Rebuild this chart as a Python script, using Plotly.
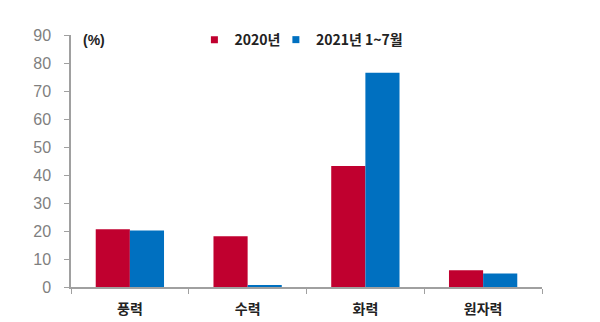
import plotly.graph_objects as go

categories = ["풍력", "수력", "화력", "원자력"]
series_2020 = [20.6, 18.1, 43.2, 6.0]
series_2021 = [20.2, 0.4, 76.5, 4.8]
series_names = ["2020년", "2021년 1~7월"]
y_ticks = [0, 10, 20, 30, 40, 50, 60, 70, 80, 90]

RED = "#C0002F"
BLUE = "#0070C0"
AXIS = "#A0A0A0"
KR_FONT = "Noto Sans CJK KR, Noto Sans, sans-serif"

fig = go.Figure()
fig.add_trace(go.Bar(x=categories, y=series_2020, name=series_names[0],
                     marker=dict(color=RED, line=dict(width=0)), showlegend=False))
fig.add_trace(go.Bar(x=categories, y=series_2021, name=series_names[1],
                     marker=dict(color=BLUE, line=dict(width=0)), showlegend=False))

# Legend entries drawn as small square markers, one legend box each
for name, color, leg in zip(series_names, [RED, BLUE], ["legend", "legend2"]):
    fig.add_trace(go.Scatter(x=[None], y=[None], mode="markers", name=name,
                             legend=leg,
                             marker=dict(symbol="square", size=7, color=color)))

legend_style = dict(orientation="h", y=0.98, xanchor="left", yanchor="middle",
                    font=dict(family=KR_FONT, size=14, color="#222222", weight="bold"),
                    bgcolor="rgba(0,0,0,0)", itemwidth=30)

fig.update_layout(
    width=600, height=322,
    margin=dict(l=71, r=58, t=35, b=35, autoexpand=False),
    paper_bgcolor="white", plot_bgcolor="white",
    barmode="group", bargap=0.42, bargroupgap=0,
    showlegend=True,
    legend=dict(x=0.262, **legend_style),
    legend2=dict(x=0.435, **legend_style),
    xaxis=dict(showline=True, linecolor=AXIS, linewidth=1.5,
               ticks="outside", tickson="boundaries", ticklen=5, tickcolor=AXIS,
               ticklabelstandoff=8,
               tickfont=dict(family=KR_FONT, size=14, color="#222222", weight="bold"),
               showgrid=False),
    yaxis=dict(range=[0, 90], tickvals=y_ticks, showline=True, linecolor=AXIS,
               linewidth=1.5, ticks="outside", ticklen=5, tickcolor=AXIS,
               ticklabelstandoff=10,
               tickfont=dict(family="Liberation Sans, Arial, sans-serif", size=16,
                             color="#7F7F7F"),
               showgrid=False, zeroline=False),
    annotations=[dict(text="<b>(%)</b>", xref="paper", yref="paper",
                      x=0.022, y=0.98, xanchor="left", yanchor="middle",
                      showarrow=False,
                      font=dict(family="Liberation Sans, Arial, sans-serif",
                                size=14, color="#222222"))],
)

fig.write_html("out.html")
